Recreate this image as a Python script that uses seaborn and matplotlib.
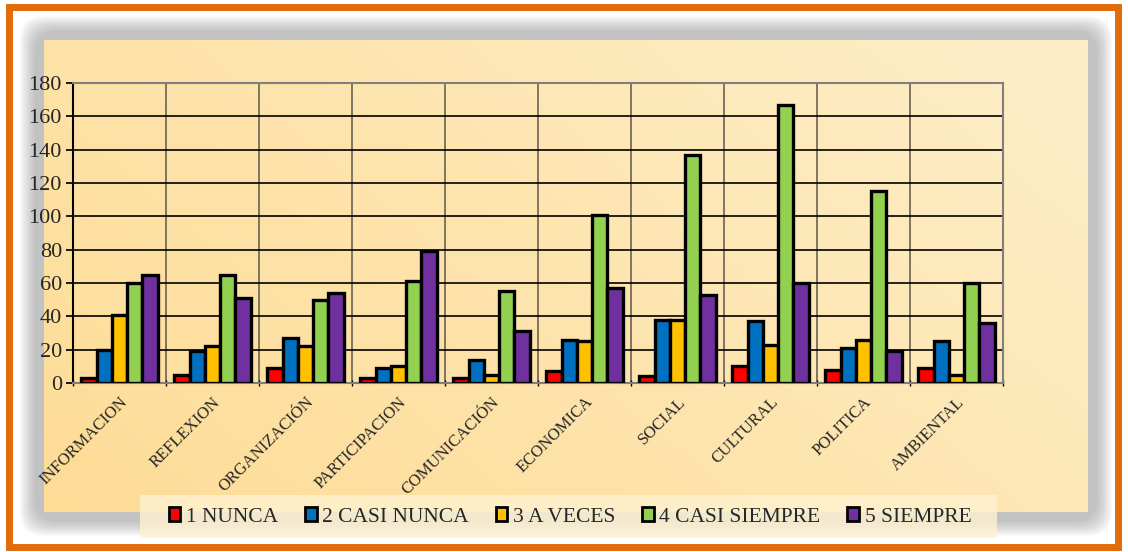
import numpy as np
import pandas as pd
import seaborn as sns
import matplotlib.pyplot as plt
from matplotlib.patches import Rectangle, FancyBboxPatch
from matplotlib.colors import LinearSegmentedColormap

categories = ["INFORMACION", "REFLEXION", "ORGANIZACIÓN", "PARTICIPACION", "COMUNICACIÓN",
              "ECONOMICA", "SOCIAL", "CULTURAL", "POLITICA", "AMBIENTAL"]
series = ["1 NUNCA", "2 CASI NUNCA", "3 A VECES", "4 CASI SIEMPRE", "5 SIEMPRE"]
nunca = [3, 5, 9, 3, 3, 7, 4, 10, 8, 9]
casi_nunca = [20, 19, 27, 9, 14, 26, 38, 37, 21, 25]
a_veces = [41, 22, 22, 10, 5, 25, 38, 23, 26, 5]
casi_siempre = [60, 65, 50, 61, 55, 101, 137, 167, 115, 60]
siempre = [65, 51, 54, 79, 31, 57, 53, 60, 19, 36]
colors = ["#ff0000", "#0070c0", "#ffc000", "#92d050", "#7030a0"]

rows = []
for s, vals in zip(series, [nunca, casi_nunca, a_veces, casi_siempre, siempre]):
    for c, v in zip(categories, vals):
        rows.append({"categoria": c, "serie": s, "valor": v})
df = pd.DataFrame(rows)

sns.set_theme(style="white")
plt.rcParams["font.family"] = ["Liberation Serif", "DejaVu Serif"]

W, H = 1128, 552
fig = plt.figure(figsize=(W / 100, H / 100), dpi=100, facecolor="white")

# background: orange frame, soft shadow, gradient panel
bg = fig.add_axes([0, 0, 1, 1], zorder=-10)
bg.set_xlim(0, W)
bg.set_ylim(H, 0)
bg.axis("off")
bg.add_patch(Rectangle((9, 7), W - 19, H - 12, fill=False, edgecolor="#e36c0a", linewidth=5))
for i in range(16):
    pad = 16 - i
    bg.add_patch(FancyBboxPatch((36 - pad, 32 - pad), 1060 + pad * 2, 488 + pad * 2,
                                boxstyle="round,pad=0,rounding_size=24",
                                facecolor="#808080", edgecolor="none", alpha=0.035))
cmap = LinearSegmentedColormap.from_list("bg", ["#fddc96", "#feeec8"])
gx, gy = np.meshgrid(np.linspace(0, 1, 200), np.linspace(0, 1, 100))
grad = 0.65 * gx + 0.35 * (1 - gy)
bg.imshow(grad, cmap=cmap, extent=(44, 1088, 512, 40), aspect="auto", zorder=1)
bg.add_patch(Rectangle((140, 495), 857, 43, facecolor="#fff2d0", edgecolor="none", alpha=0.8, zorder=2))

ax = fig.add_axes([73 / W, 1 - 383 / H, (1003 - 73) / W, 300 / H])
ax.set_facecolor("none")
sns.barplot(data=df, x="categoria", y="valor", hue="serie", order=categories, hue_order=series,
            palette=colors, saturation=1, edgecolor="black", linewidth=2.4, width=0.82, gap=0,
            ax=ax, zorder=3)

ax.set_ylim(0, 180)
ax.set_xlim(-0.5, len(categories) - 0.5)
ax.set_yticks(range(0, 181, 20))
ax.set_xticks(np.arange(-0.5, len(categories)), minor=True)
ax.grid(axis="y", color="black", linewidth=1.2, zorder=0)
ax.grid(axis="x", which="minor", color="#6b6253", linewidth=1.2, zorder=0)
ax.set_axisbelow(True)
ax.tick_params(axis="y", labelsize=16, length=5, color="black", left=True, pad=3)
ax.tick_params(axis="x", which="major", length=0, labelsize=12, pad=8)
ax.tick_params(axis="x", which="minor", length=5, color="black", direction="inout", bottom=True)
plt.setp(ax.get_xticklabels(), rotation=45, ha="right", rotation_mode="anchor")
ax.set_xlabel("")
ax.set_ylabel("")
for side in ["left", "bottom", "right", "top"]:
    ax.spines[side].set_color("#7f7f7f")
    ax.spines[side].set_linewidth(1.5)
ax.spines["left"].set_color("black")

handles, labels = ax.get_legend_handles_labels()
ax.get_legend().remove()
for h in handles:
    h.set_linewidth(2)
fig.legend(handles, labels, loc="center", bbox_to_anchor=(570 / W, 1 - 517 / H), ncol=5,
           frameon=False, fontsize=15.5, handlelength=0.55, handleheight=0.6,
           handletextpad=0.25, columnspacing=1.25)

fig.savefig("out.png", dpi=100, facecolor="white")
